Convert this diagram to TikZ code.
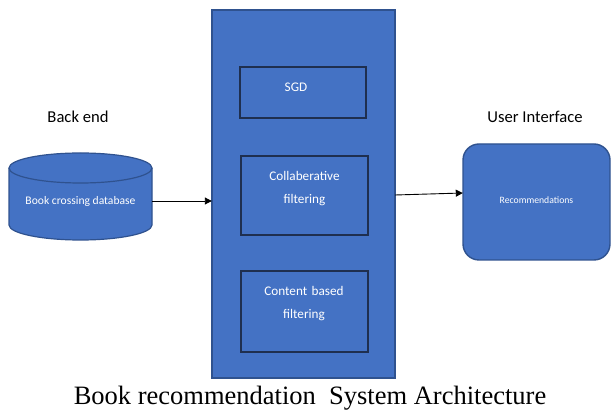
\documentclass[tikz,border=0pt]{standalone}
\usepackage{fontspec}
\setmainfont{Liberation Serif}
\newfontfamily\calibri{Carlito}
\usetikzlibrary{arrows.meta}
\definecolor{boxblue}{HTML}{4472C4}
\definecolor{boxedge}{HTML}{2F528F}
\definecolor{inneredge}{HTML}{1F2F4F}
\tikzset{
  panel/.style={draw=boxedge, line width=1.4pt, fill=boxblue},
  inner/.style={draw=inneredge, line width=1.1pt, fill=boxblue},
  intext/.style={text=white, font=\calibri\fontsize{13.2}{23}\selectfont, align=center},
  arr/.style={-{Triangle[length=7pt,width=7pt]}, line width=0.9pt, black},
  heading/.style={font=\calibri\fontsize{16.6}{20}\selectfont, text=black}
}
\begin{document}
\begin{tikzpicture}[x=1pt,y=1pt]
\useasboundingbox (0,0) rectangle (611,412);
% central processing block
\draw[panel] (212,34) rectangle (395,402);
\node[minimum width=183pt, minimum height=368pt, inner sep=0pt] (main) at (303.5,218) {};
% algorithm boxes
\draw[inner] (240,294) rectangle (366,345);
\node[intext] (sgd) at (296,325) {SGD};
\draw[inner] (241,177) rectangle (368,256);
\node[intext, text width=120pt] (collab) at (304.5,223.5) {Collaberative\\filtering};
\draw[inner] (241,60) rectangle (368,141);
\node[intext, text width=120pt] (content) at (304,108) {Content based\\filtering};
% database cylinder
\draw[draw=boxedge, line width=1.2pt, fill=boxblue]
  (9,244) -- (9,187) arc (180:360:71.5 and 15) -- (152,244) arc (0:180:71.5 and 15) -- cycle;
\draw[draw=boxedge, line width=1.2pt] (9,244) arc (180:360:71.5 and 15);
\node[text=white, font=\calibri\fontsize{11.6}{14}\selectfont, minimum width=143pt, inner sep=0pt] (db) at (80.5,211) {Book crossing database};
% user interface block
\draw[panel, rounded corners=16pt] (463,152) rectangle (610,268);
\node[text=white, font=\calibri\fontsize{9.7}{12}\selectfont, minimum width=147pt, minimum height=116pt, inner sep=0pt] (rec) at (536.5,212) {Recommendations};
% headings
\node[heading] (back) at (78,295) {Back end};
\node[heading] (ui) at (535,295) {User Interface};
% connectors
\draw[arr] (db.east) -- (db.east -| main.west);
\draw[arr] ([yshift=-1pt]main.east) -- ([yshift=7pt]rec.west);
% caption
\node[font=\fontsize{26.5}{30}\selectfont] (cap) at (310,14) {Book recommendation\ \ System Architecture};
\end{tikzpicture}
\end{document}
